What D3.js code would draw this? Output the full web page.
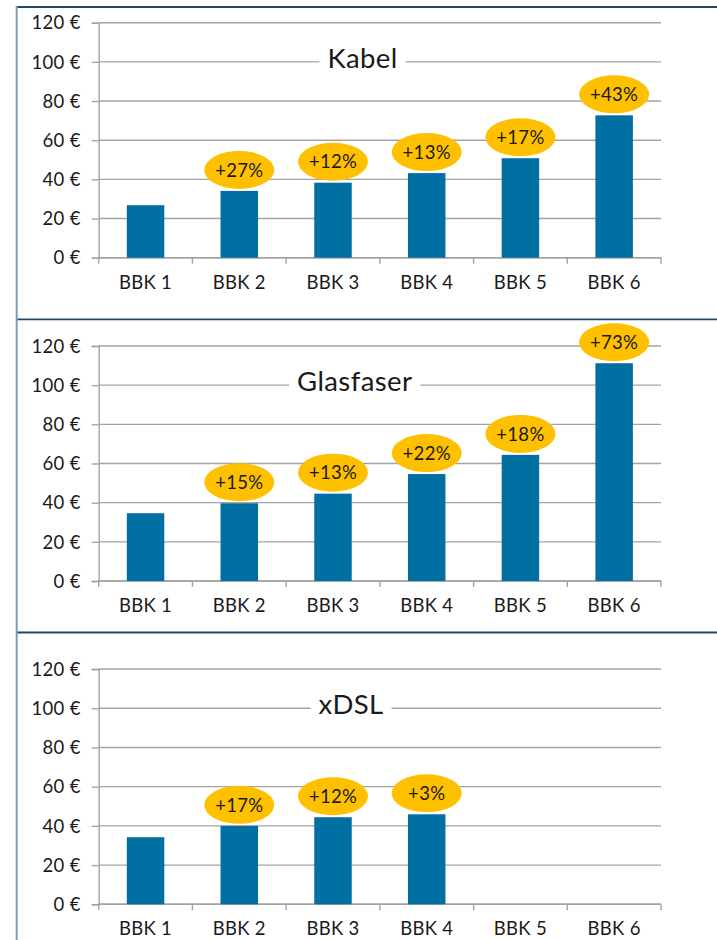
<!DOCTYPE html>
<html>
<head>
<meta charset="utf-8">
<script src="https://cdn.jsdelivr.net/npm/d3@7"></script>
<style>
  html, body { margin: 0; padding: 0; background: #fff; }
  svg { display: block; }
  text { font-family: Lato, "Open Sans", sans-serif; fill: #1a1a1a; }
</style>
</head>
<body>
<svg id="chart" width="717" height="940"></svg>
<script>
// ---- data ----
const categories = ["BBK 1", "BBK 2", "BBK 3", "BBK 4", "BBK 5", "BBK 6"];
const titles = ["Kabel", "Glasfaser", "xDSL"];
const kabelValues = [26.8, 34.1, 38.3, 43.2, 50.8, 72.7];
const kabelGrowth = [null, "+27%", "+12%", "+13%", "+17%", "+43%"];
const glasfaserValues = [34.6, 39.7, 44.6, 54.6, 64.4, 111.2];
const glasfaserGrowth = [null, "+15%", "+13%", "+22%", "+18%", "+73%"];
const xdslValues = [34.2, 40.0, 44.4, 45.9, null, null];
const xdslGrowth = [null, "+17%", "+12%", "+3%", null, null];
const yTicks = [0, 20, 40, 60, 80, 100, 120];
const titleLevel = 100;

// ---- layout ----
const W = 717, H = 940;
const plotLeft = 98.7, plotRight = 661;
const panelLayout = [
  { top: 7, y0: 257.7, yMax: 22.7, titleX: 362.5 },
  { top: 319.3, y0: 581, yMax: 346, titleX: 354.7 },
  { top: 632.5, y0: 904.3, yMax: 669, titleX: 351 }
];
const seriesValues = [kabelValues, glasfaserValues, xdslValues];
const seriesGrowth = [kabelGrowth, glasfaserGrowth, xdslGrowth];

const svg = d3.select("#chart");
svg.append("rect").attr("width", W).attr("height", H).attr("fill", "#fff");

const x = d3.scaleBand().domain(categories).range([plotLeft, plotRight])
  .paddingInner(0.6).paddingOuter(0.3);

panelLayout.forEach((L, i) => {
  const g = svg.append("g");
  const y = d3.scaleLinear().domain([0, 120]).range([L.y0, L.yMax]);
  const vals = seriesValues[i];
  const growth = seriesGrowth[i];

  // gridlines
  g.selectAll(".grid").data(yTicks).enter().append("line")
    .attr("x1", plotLeft).attr("x2", plotRight)
    .attr("y1", d => y(d)).attr("y2", d => y(d))
    .attr("stroke", "#a3a3a3").attr("stroke-width", 1.4);

  // y axis
  const ya = g.append("g").attr("transform", `translate(${plotLeft},0)`)
    .call(d3.axisLeft(y).tickValues(yTicks).tickSize(7).tickPadding(11)
      .tickFormat(d => d + " €"));
  ya.select(".domain").attr("stroke", "#a3a3a3").attr("stroke-width", 1.4);
  ya.selectAll(".tick line").attr("stroke", "#a3a3a3").attr("stroke-width", 1.4);
  ya.selectAll(".tick text").attr("font-size", 18.5).attr("fill", "#1a1a1a")
    .attr("font-family", "Lato, sans-serif").attr("dy", "0.34em")
    .attr("letter-spacing", "0.3px");

  // x axis
  const xa = g.append("g").attr("transform", `translate(0,${L.y0})`)
    .call(d3.axisBottom(x).tickSize(0).tickPadding(18));
  xa.select(".domain").remove();
  xa.selectAll(".tick text").attr("font-size", 18.5).attr("fill", "#1a1a1a")
    .attr("font-family", "Lato, sans-serif").attr("letter-spacing", "0.3px");
  g.append("line").attr("x1", plotLeft).attr("x2", plotRight)
    .attr("y1", L.y0).attr("y2", L.y0)
    .attr("stroke", "#a3a3a3").attr("stroke-width", 1.4);
  const bounds = categories.map(c => x(c) - x.step() * x.paddingInner() / 2);
  bounds.push(plotRight);
  g.selectAll(".xt").data(bounds).enter().append("line")
    .attr("x1", d => d).attr("x2", d => d)
    .attr("y1", L.y0).attr("y2", L.y0 + 6)
    .attr("stroke", "#a3a3a3").attr("stroke-width", 1.4);

  // bars
  const data = categories.map((c, j) => ({ c, v: vals[j], g: growth[j] }));
  g.selectAll(".bar").data(data.filter(d => d.v != null)).enter().append("rect")
    .attr("x", d => x(d.c)).attr("width", x.bandwidth())
    .attr("y", d => y(d.v)).attr("height", d => y(0) - y(d.v))
    .attr("fill", "#0070a2");

  // growth bubbles
  const lab = data.filter(d => d.v != null && d.g);
  g.selectAll(".bub").data(lab).enter().append("ellipse")
    .attr("cx", d => x(d.c) + x.bandwidth() / 2)
    .attr("cy", d => y(d.v) - 21)
    .attr("rx", 35).attr("ry", 19)
    .attr("fill", "#ffc000");
  g.selectAll(".bubt").data(lab).enter().append("text")
    .attr("x", d => x(d.c) + x.bandwidth() / 2)
    .attr("y", d => y(d.v) - 21)
    .attr("dy", "0.36em")
    .attr("text-anchor", "middle").attr("font-size", 18.5)
    .attr("letter-spacing", "0.3px")
    .text(d => d.g);

  // title with white box
  const tg = g.append("g");
  const bg = tg.append("rect").attr("fill", "#fff");
  const tt = tg.append("text").attr("x", L.titleX).attr("y", y(titleLevel) + 6)
    .attr("text-anchor", "middle").attr("font-size", 27.5)
    .attr("letter-spacing", "0.4px")
    .text(titles[i]);
  const bb = tt.node().getBBox();
  bg.attr("x", bb.x - 8).attr("width", bb.width + 16)
    .attr("y", y(titleLevel) - 3).attr("height", 6);

  // panel top border
  svg.append("line").attr("x1", 16).attr("x2", W)
    .attr("y1", L.top).attr("y2", L.top)
    .attr("stroke", "#1d4b6b").attr("stroke-width", 1.8);
});

// left border
svg.append("line").attr("x1", 16.7).attr("x2", 16.7)
  .attr("y1", 6).attr("y2", H)
  .attr("stroke", "#7d9db5").attr("stroke-width", 2);
</script>
</body>
</html>
